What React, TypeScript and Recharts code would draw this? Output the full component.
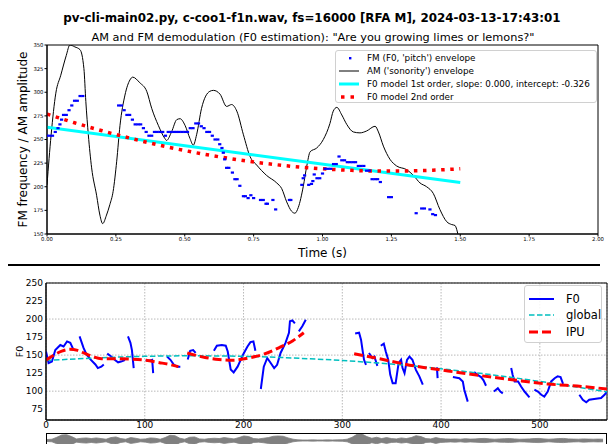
import {
  Area,
  AreaChart,
  CartesianGrid,
  ComposedChart,
  Line,
  ReferenceArea,
  Scatter,
  XAxis,
  YAxis,
} from "recharts";

const FONT = "'DejaVu Sans', sans-serif";

// ---- upper panel: AM / FM demodulation, time in seconds, values in Hz ----

const FM_PITCH: [number, number][] = [
  [0.0, 254], [0.01, 254], [0.02, 254], [0.03, 258], [0.04, 262], [0.047, 266], [0.053, 271],
  [0.06, 276], [0.07, 276], [0.08, 281], [0.09, 286], [0.1, 291], [0.11, 291], [0.12, 296], [0.13, 296],
  [0.26, 286], [0.27, 286], [0.28, 281], [0.29, 276], [0.3, 276], [0.31, 271], [0.32, 266], [0.33, 266],
  [0.34, 266], [0.35, 262], [0.36, 258], [0.37, 254], [0.38, 254], [0.39, 258], [0.4, 258], [0.41, 258],
  [0.42, 258], [0.43, 254], [0.44, 258], [0.45, 258], [0.46, 258], [0.47, 258], [0.48, 258], [0.49, 258],
  [0.5, 258], [0.51, 258], [0.52, 262], [0.53, 262], [0.54, 267], [0.55, 267], [0.56, 264], [0.57, 262],
  [0.58, 258], [0.59, 258], [0.6, 254], [0.61, 250], [0.62, 250], [0.627, 245], [0.635, 241], [0.64, 236],
  [0.645, 229], [0.652, 220], [0.66, 220], [0.673, 215], [0.682, 208], [0.69, 208], [0.7, 201], [0.713, 190],
  [0.72, 190], [0.73, 188], [0.74, 191], [0.75, 188], [0.775, 186], [0.785, 186], [0.795, 182], [0.8, 182],
  [0.82, 186], [0.83, 176], [0.88, 186], [0.885, 186],
  [0.925, 202], [0.93, 209], [0.935, 212], [0.95, 202], [0.96, 203], [0.965, 206], [0.97, 213], [0.98, 209],
  [0.99, 209], [1.0, 214], [1.01, 219], [1.02, 219], [1.03, 219], [1.04, 224], [1.05, 224], [1.06, 232],
  [1.07, 228], [1.08, 228], [1.09, 226], [1.1, 226], [1.11, 226], [1.12, 226], [1.13, 222], [1.14, 222],
  [1.15, 222], [1.16, 217], [1.17, 217], [1.18, 208], [1.19, 208], [1.2, 208], [1.21, 205], [1.24, 189],
  [1.25, 189], [1.34, 172], [1.36, 177], [1.37, 177], [1.39, 176], [1.4, 171], [1.41, 170],
];

const AM_ENVELOPE: [number, number][] = [
  [0.0, 202], [0.015, 255], [0.032, 299], [0.05, 318], [0.07, 339], [0.083, 350], [0.101, 348],
  [0.12, 345], [0.134, 325], [0.141, 290], [0.15, 255], [0.162, 220], [0.18, 191], [0.192, 170],
  [0.202, 161], [0.216, 170], [0.228, 181], [0.24, 195], [0.253, 227], [0.265, 265], [0.283, 297],
  [0.301, 313], [0.311, 316], [0.337, 310], [0.362, 301], [0.38, 283], [0.404, 265], [0.428, 251],
  [0.434, 249], [0.452, 258], [0.471, 271], [0.483, 272], [0.501, 265], [0.519, 251], [0.531, 244],
  [0.543, 255], [0.561, 283], [0.591, 301], [0.604, 302], [0.628, 298], [0.652, 285], [0.67, 287],
  [0.689, 280], [0.713, 255], [0.737, 232], [0.761, 223], [0.797, 212], [0.834, 204], [0.852, 198],
  [0.87, 184], [0.888, 174], [0.9, 172], [0.912, 178], [0.93, 200], [0.943, 222], [0.955, 237],
  [0.979, 241], [1.003, 250], [1.027, 267], [1.039, 280], [1.052, 284], [1.07, 276], [1.088, 266],
  [1.112, 258], [1.136, 257], [1.16, 259], [1.191, 264], [1.203, 258], [1.221, 243], [1.245, 229],
  [1.269, 222], [1.306, 218], [1.33, 212], [1.354, 204], [1.378, 200], [1.402, 193], [1.426, 176],
  [1.451, 163], [1.469, 160], [1.481, 159], [1.487, 155], [1.494, 146],
];

const F0_FIT_LINEAR: [number, number][] = [[0, 263], [1.5, 204.5]];

const F0_FIT_QUAD: [number, number][] = [
  [0, 277], [0.1, 267.7], [0.2, 259.2], [0.3, 251.5], [0.4, 244.5], [0.5, 238.3], [0.6, 232.9],
  [0.7, 228.3], [0.8, 224.4], [0.9, 221.3], [1.0, 219], [1.1, 217.4], [1.2, 216.7], [1.3, 216.7],
  [1.4, 217.5], [1.5, 219],
];

const TOP_X_TICKS = [0, 0.25, 0.5, 0.75, 1, 1.25, 1.5, 1.75, 2];
const TOP_Y_TICKS = [150, 175, 200, 225, 250, 275, 300, 325, 350];

// ---- lower panel: F0 contour per frame, with global and IPU trends ----

const F0_SEGMENTS: [number, number][][] = [
  [[0, 155], [2.6, 139], [6, 141], [9.4, 157], [14.5, 164], [17.8, 162], [21.3, 169], [24.6, 167], [28, 157]],
  [[34, 176], [36, 168], [38, 160], [41, 151], [45, 144], [50, 137], [52.5, 132], [56, 134], [58.5, 137]],
  [[62, 152], [66, 148], [69.5, 143.5], [73, 140], [76, 141], [79, 142.5], [80.5, 146]],
  [[83, 176], [85.5, 167], [87, 157], [88.8, 132]],
  [[101, 143.5], [104, 142], [107.5, 143.5], [108.5, 125]],
  [[122.5, 148], [126, 143.5], [129.5, 136.5], [133, 134], [136, 134]],
  [[143.5, 144], [146, 156], [149, 157], [151.5, 153]],
  [[170, 156], [173, 163], [178, 164], [182, 163], [184, 155], [187, 130], [190, 126], [194, 134],
    [197, 143], [200, 152], [204, 162], [207, 168], [210, 169], [212, 156]],
  [[217.5, 103], [220.5, 134], [224, 146], [227.5, 139], [231, 132], [234, 136.5], [237.5, 153],
    [242.5, 167], [246, 181], [247, 197], [249.5, 198], [252, 194]],
  [[256, 183], [259.5, 190], [263, 199]],
  [[313, 180], [317, 181], [319, 171], [320.5, 157], [322, 143.5], [324, 136.5]],
  [[327, 153], [330.5, 146], [332.5, 148], [335.5, 135]],
  [[339, 163], [342, 166], [344, 155], [346.5, 143.5], [348.5, 123], [351, 111], [354, 111], [355.5, 125],
    [357, 139], [359.5, 143.5], [361, 132], [363, 125], [365.5, 143.5], [368, 148], [371, 143.5],
    [374.5, 129.5], [378, 120.5], [381.5, 109]],
  [[395.8, 133], [396.5, 118]],
  [[412, 119.5], [418.5, 118], [422, 113.5], [423.5, 102], [427, 85.5]],
  [[433.5, 126.5], [437, 122.5], [440.5, 119.5], [443, 115], [445.5, 107.5]],
  [[453.5, 99.5], [457.5, 104], [460, 99.5], [462.5, 97]],
  [[471, 132], [472.5, 122.5], [474.5, 113.5], [478, 113.5], [481, 106.5], [484.5, 99.5], [489.5, 91.5]],
  [[494.5, 102], [498, 99.5], [501.5, 95], [504.5, 92.5], [508, 99.5], [511.5, 113.5], [515, 118],
    [518, 120.5], [521, 119.5], [523.5, 110]],
  [[540, 95], [543.5, 88], [547, 84.5], [550, 88], [555, 89], [562, 90.5], [565.5, 95], [568, 99.5]],
];

const GLOBAL_TREND: [number, number][] = [
  [0, 142.5], [50, 146], [100, 148.3], [150, 149], [200, 148.3], [250, 146], [300, 142.5],
  [350, 137.5], [400, 131], [450, 123], [500, 113.5], [550, 103], [568, 99],
];

const IPU_TRENDS: [number, number][][] = [
  [[0, 143], [8, 150], [16, 155.5], [24, 158], [32, 156.5], [40, 152], [48, 147.5], [56, 145],
    [70, 145], [85, 144.5], [100, 143], [115, 139.5], [125, 137], [134, 134]],
  [[143, 153], [160, 147], [175, 144], [190, 143], [205, 146], [220, 151], [237, 161], [250, 170], [261, 181]],
  [[312, 152], [339, 144.5], [373, 135], [407, 128], [440, 121.5], [474, 115.5], [508, 110], [542, 106.5], [568, 103]],
];

const BOTTOM_X_TICKS = [0, 100, 200, 300, 400, 500];
const BOTTOM_Y_TICKS = [75, 100, 125, 150, 175, 200, 225, 250];

// waveform envelope under the F0 panel, one value every 5 frames
const WAVE_STEP = 5;
const WAVE_AMP = [
  0.15, 0.2, 0.5, 0.85, 0.9, 0.6, 0.25, 0.35, 0.4, 0.3, 0.4, 0.3, 0.2, 0.45, 0.55, 0.3, 0.2, 0.45, 0.35, 0.2,
  0.25, 0.4, 0.35, 0.2, 0.45, 0.8, 0.75, 0.35, 0.2, 0.5, 0.55, 0.25, 0.2, 0.3, 0.35, 0.3, 0.45, 0.35, 0.25, 0.45,
  0.7, 0.6, 0.3, 0.25, 0.35, 0.45, 0.65, 0.7, 0.65, 0.4, 0.2, 0.1, 0.08, 0.08, 0.1, 0.08, 0.08, 0.1, 0.08, 0.1,
  0.12, 0.2, 0.5, 0.95, 1.0, 0.6, 0.35, 0.5, 0.3, 0.45, 0.3, 0.25, 0.4, 0.3, 0.45, 0.75, 0.6, 0.3, 0.25, 0.45,
  0.3, 0.25, 0.22, 0.25, 0.2, 0.28, 0.22, 0.25, 0.3, 0.32, 0.25, 0.2, 0.25, 0.28, 0.3, 0.25, 0.2, 0.22, 0.25, 0.3,
  0.32, 0.25, 0.2, 0.25, 0.3, 0.32, 0.25, 0.22, 0.2, 0.25, 0.22, 0.2, 0.22, 0.2,
];

const pts = (rows: [number, number][]) => rows.map(([t, v]) => ({ t, v }));

const FmDot = (p: any) => (
  <rect x={p.cx - 1.6} y={p.cy - 1.1} width={3.2} height={2.2} fill="#0000ff" />
);

const topTick = { fontSize: 5.3, fill: "#000", fontFamily: FONT };
const bottomTick = { fontSize: 9, fill: "#000", fontFamily: FONT };

function LegendRow({ top, left, marker, label, fontSize }: any) {
  return (
    <div style={{ position: "absolute", top, left, height: 12, display: "flex", alignItems: "center", fontSize, whiteSpace: "nowrap" }}>
      {marker}
      <span>{label}</span>
    </div>
  );
}

function TopLegend() {
  const box = { position: "absolute" as const, left: 335, top: 50, width: 262, height: 53, border: "1px solid #d0d0d0", borderRadius: 3, background: "rgba(255,255,255,0.85)", boxSizing: "border-box" as const };
  const sw = (el: any) => <svg width={26} height={12} style={{ marginRight: 3 }}>{el}</svg>;
  return (
    <div style={box}>
      <LegendRow top={0.5} left={2} fontSize={8.8} label="FM (F0, 'pitch') envelope"
        marker={sw(<rect x={11} y={5} width={2.4} height={2.4} fill="#0000ff" />)} />
      <LegendRow top={13.8} left={2} fontSize={8.8} label="AM ('sonority') envelope"
        marker={sw(<line x1={1} x2={21} y1={6} y2={6} stroke="#000" strokeWidth={1} />)} />
      <LegendRow top={26.5} left={2} fontSize={8.8} label="F0 model 1st order, slope: 0.000, intercept: -0.326"
        marker={sw(<line x1={1} x2={21} y1={6} y2={6} stroke="#00ffff" strokeWidth={3} />)} />
      <LegendRow top={39.5} left={2} fontSize={8.8} label="F0 model 2nd order"
        marker={sw(<line x1={3} x2={21} y1={6} y2={6} stroke="#ff0000" strokeWidth={3.5} strokeDasharray="3.5 6" />)} />
    </div>
  );
}

function BottomLegend() {
  const box = { position: "absolute" as const, left: 524, top: 285, width: 78, height: 58, border: "1px solid #d0d0d0", borderRadius: 3, background: "rgba(255,255,255,0.85)", boxSizing: "border-box" as const };
  const sw = (el: any) => <svg width={34} height={12} style={{ marginRight: 4 }}>{el}</svg>;
  return (
    <div style={box}>
      <LegendRow top={7} left={3} fontSize={11.5} label="F0"
        marker={sw(<line x1={1} x2={26} y1={6} y2={6} stroke="#0000ff" strokeWidth={2} />)} />
      <LegendRow top={23} left={3} fontSize={11.5} label="global"
        marker={sw(<line x1={1} x2={26} y1={6} y2={6} stroke="#00bfbf" strokeWidth={1.5} strokeDasharray="5.5 2.5" />)} />
      <LegendRow top={39.5} left={3} fontSize={11.5} label="IPU"
        marker={sw(<line x1={1} x2={26} y1={6} y2={6} stroke="#ff0000" strokeWidth={3} strokeDasharray="9 4" />)} />
    </div>
  );
}

export default function App() {
  const wave = WAVE_AMP.map((a, i) => ({ t: i * WAVE_STEP, a }));
  return (
    <div style={{ position: "fixed", left: 0, top: 0, width: 608, height: 444, overflow: "hidden", background: "#fff", fontFamily: FONT, color: "#000" }}>
      <div style={{ position: "absolute", top: 11, left: 16, width: 592, textAlign: "center", fontSize: 11.9, fontWeight: "bold", lineHeight: "14px", whiteSpace: "nowrap" }}>
        pv-cli-main02.py, c-coo1-f1n.wav, fs=16000 [RFA M], 2024-03-13-17:43:01
      </div>
      <div style={{ position: "absolute", top: 30.5, left: 18, width: 590, textAlign: "center", fontSize: 11.3, lineHeight: "14px", whiteSpace: "nowrap" }}>
        AM and FM demodulation (F0 estimation): "Are you growing limes or lemons?"
      </div>

      <div style={{ position: "absolute", top: 0, left: 0 }}>
        <ComposedChart width={608} height={265} margin={{ top: 45, right: 10, bottom: 0, left: 0 }}>
          <XAxis type="number" dataKey="t" domain={[0, 2]} ticks={TOP_X_TICKS} allowDataOverflow
            tickFormatter={(v: number) => v.toFixed(2)} height={31} tick={topTick} tickSize={2.5} tickMargin={1}
            stroke="#000"
            label={{ value: "Time (s)", position: "insideBottom", offset: 8, style: { fontSize: 12, fill: "#000", fontFamily: FONT } }} />
          <YAxis type="number" dataKey="v" domain={[150, 350]} ticks={TOP_Y_TICKS} allowDataOverflow
            width={47} tick={topTick} tickSize={2.5} tickMargin={1} stroke="#000"
            label={{ value: "FM frequency / AM amplitude", angle: -90, position: "insideLeft", offset: 23,
              style: { fontSize: 12, fill: "#000", fontFamily: FONT, textAnchor: "middle" } }} />
          <Scatter data={pts(FM_PITCH)} shape={FmDot} fill="#0000ff" isAnimationActive={false} />
          <Line data={pts(AM_ENVELOPE)} dataKey="v" type="monotone" stroke="#000" strokeWidth={1}
            dot={false} isAnimationActive={false} />
          <Line data={pts(F0_FIT_LINEAR)} dataKey="v" type="linear" stroke="#00ffff" strokeWidth={3}
            dot={false} isAnimationActive={false} />
          <Line data={pts(F0_FIT_QUAD)} dataKey="v" type="monotone" stroke="#ff0000" strokeWidth={3.5}
            strokeDasharray="3.5 5.6" dot={false} isAnimationActive={false} />
          <ReferenceArea x1={0} x2={2} y1={150} y2={350} fill="none" stroke="#000" strokeWidth={1} fillOpacity={0} />
        </ComposedChart>
      </div>
      <TopLegend />

      <div style={{ position: "absolute", top: 264, left: 8, width: 592, height: 2, background: "#000" }} />

      <div style={{ position: "absolute", top: 270, left: 0 }}>
        <ComposedChart width={608} height={163} margin={{ top: 13, right: 1, bottom: 0, left: 0 }}>
          <CartesianGrid stroke="#b8b8b8" strokeDasharray="1.5 1.5" />
          <XAxis type="number" dataKey="t" domain={[0, 568]} ticks={BOTTOM_X_TICKS} allowDataOverflow
            height={13} tick={bottomTick} tickLine={false} tickSize={0} tickMargin={2} stroke="#000" />
          <YAxis type="number" dataKey="v" domain={[60, 250]} ticks={BOTTOM_Y_TICKS} allowDataOverflow
            width={46} tick={bottomTick} tickLine={false} tickSize={0} tickMargin={3} stroke="#000"
            label={{ value: "F0", angle: -90, position: "insideLeft", offset: 20,
              style: { fontSize: 9.5, fill: "#000", fontFamily: FONT, textAnchor: "middle" } }} />
          {F0_SEGMENTS.map((seg, i) => (
            <Line key={`f0-${i}`} data={pts(seg)} dataKey="v" type="linear" stroke="#0000ff" strokeWidth={2}
              dot={false} isAnimationActive={false} />
          ))}
          <Line data={pts(GLOBAL_TREND)} dataKey="v" type="monotone" stroke="#00bfbf" strokeWidth={1.5}
            strokeDasharray="5.5 2.5" dot={false} isAnimationActive={false} />
          {IPU_TRENDS.map((seg, i) => (
            <Line key={`ipu-${i}`} data={pts(seg)} dataKey="v" type="monotone" stroke="#ff0000" strokeWidth={3}
              strokeDasharray="9 4" dot={false} isAnimationActive={false} />
          ))}
          <ReferenceArea x1={0} x2={568} y1={60} y2={250} fill="none" stroke="#000" strokeWidth={1} fillOpacity={0} />
        </ComposedChart>
      </div>
      <BottomLegend />

      <div style={{ position: "absolute", top: 433, left: 45.5, width: 561.5, height: 15, border: "1px solid #000", boxSizing: "border-box", overflow: "hidden" }}>
        <AreaChart width={559} height={13} data={wave} margin={{ top: 0, right: 0, bottom: 0, left: 0 }}>
          <XAxis type="number" dataKey="t" domain={[0, 568]} hide />
          <YAxis type="number" domain={[-1, 1]} hide />
          <Area dataKey={(d: any) => [-d.a, d.a]} type="linear" stroke="#808080" strokeWidth={0.8}
            fill="#808080" fillOpacity={1} isAnimationActive={false} />
        </AreaChart>
      </div>
    </div>
  );
}
